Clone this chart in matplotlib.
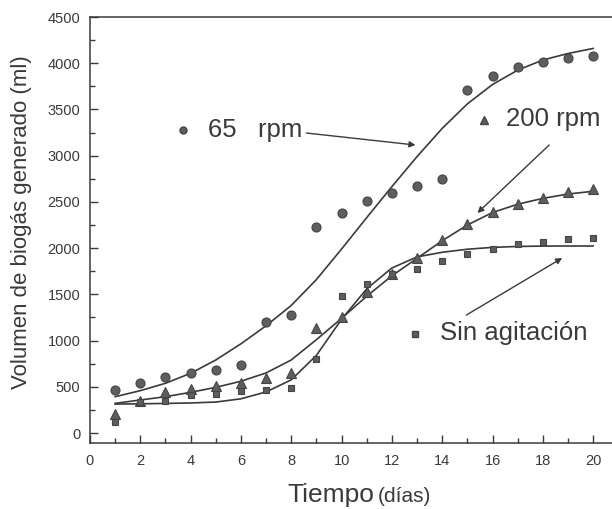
"""
Volumen de biogás generado vs. tiempo, three agitation conditions.
Saves out.png (612x509).
"""
import matplotlib
matplotlib.use('Agg')
import matplotlib.pyplot as plt
from matplotlib.ticker import MultipleLocator

# ── Data ───────────────────────────────────────────────────────────────────────
days = list(range(1, 21))

rpm65_pts = [469, 542, 603, 653, 682, 733, 1199, 1278, 2229, 2384,
             2507, 2597, 2673, 2753, 3711, 3863, 3957, 4018, 4061, 4080]
rpm200_pts = [206, 350, 448, 477, 505, 538, 592, 646, 1134, 1253,
              1523, 1722, 1892, 2090, 2256, 2390, 2482, 2547, 2608, 2637]
sin_pts = [116, 332, 350, 412, 422, 451, 466, 487, 801, 1487,
           1614, 1715, 1776, 1866, 1939, 1993, 2047, 2065, 2094, 2108]

# fitted curves, read at each day
rpm65_fit = [393, 458, 538, 646, 790, 965, 1160, 1380, 1660, 1990,
             2330, 2665, 2990, 3295, 3560, 3770, 3925, 4035, 4105, 4160]
rpm200_fit = [321, 357, 393, 440, 494, 560, 650, 790, 1010, 1240,
              1480, 1700, 1890, 2080, 2250, 2385, 2475, 2538, 2585, 2615]
sin_fit = [313, 316, 320, 325, 335, 370, 445, 575, 840, 1230,
           1560, 1785, 1905, 1955, 1988, 2008, 2018, 2022, 2023, 2023]

INK = '#3a3a3a'
MARK = '#5e5e5e'
FONT = 'Liberation Sans'

plt.rcParams['font.family'] = [FONT, 'DejaVu Sans']

fig = plt.figure(figsize=(6.12, 5.09), dpi=100)
ax = fig.add_axes([90 / 612, 1 - 443 / 509, 1 - 90 / 612, (443 - 17) / 509])

# curves
for fit in (rpm65_fit, rpm200_fit, sin_fit):
    ax.plot(days, fit, color=INK, linewidth=1.2, zorder=2)

# points
ax.plot(days, rpm65_pts, 'o', ms=6.5, color=MARK, mec='#444444', mew=0.8, zorder=3)
ax.plot(days, rpm200_pts, '^', ms=7, color=MARK, mec='#444444', mew=0.8, zorder=3)
ax.plot(days, sin_pts, 's', ms=5, color=MARK, mec='#444444', mew=0.8, zorder=3)

# ── Axes styling ───────────────────────────────────────────────────────────────
ax.set_xlim(0, 20.75)
ax.set_ylim(-108, 4500)
ax.xaxis.set_major_locator(MultipleLocator(2))
ax.xaxis.set_minor_locator(MultipleLocator(1))
ax.yaxis.set_major_locator(MultipleLocator(500))
ax.yaxis.set_minor_locator(MultipleLocator(250))
ax.spines['right'].set_visible(False)
for s in ('left', 'bottom', 'top'):
    ax.spines[s].set_color(INK)
    ax.spines[s].set_linewidth(1.1)
ax.tick_params(which='both', direction='in', color=INK, width=1.0,
               top=False, right=False)
ax.tick_params(which='major', length=6)
ax.tick_params(which='minor', length=3.5)
ax.tick_params(axis='y', labelsize=10.5, labelcolor=INK, pad=7)
ax.tick_params(axis='x', labelsize=10.5, labelcolor=INK, pad=8)

fig.text(22 / 612, 1 - 222 / 509, 'Volumen de biogás generado (ml)',
         rotation=90, ha='center', va='center', fontsize=16, color=INK)
fig.text(374 / 612, 1 - 502 / 509, 'Tiempo', ha='right', va='baseline',
         fontsize=19, color=INK)
fig.text(378 / 612, 1 - 502 / 509, '(días)', ha='left', va='baseline',
         fontsize=15, color=INK)

# ── Annotations ────────────────────────────────────────────────────────────────
arrow = dict(arrowstyle='-|>', color=INK, lw=1.0, mutation_scale=9,
             shrinkA=0, shrinkB=0)

ax.plot(3.69, 3278, 'o', ms=5, color=MARK, mec='#444444', zorder=3)
ax.text(4.68, 3278, '65   rpm', fontsize=18.5, color=INK, va='center', ha='left')
ax.annotate('', xy=(12.94, 3115), xytext=(8.6, 3245), arrowprops=arrow)

ax.plot(15.67, 3386, '^', ms=5.5, color=MARK, mec='#444444', zorder=3)
ax.text(16.55, 3400, '200 rpm', fontsize=18.5, color=INK, va='center', ha='left')
ax.annotate('', xy=(15.4, 2380), xytext=(18.25, 3115), arrowprops=arrow)

ax.plot(12.9, 1071, 's', ms=4.5, color=MARK, mec='#444444', zorder=3)
ax.text(13.9, 1082, 'Sin agitación', fontsize=18.5, color=INK, va='center', ha='left')
ax.annotate('', xy=(18.77, 1893), xytext=(14.96, 1276), arrowprops=arrow)

fig.savefig('out.png', dpi=100, facecolor='white')
